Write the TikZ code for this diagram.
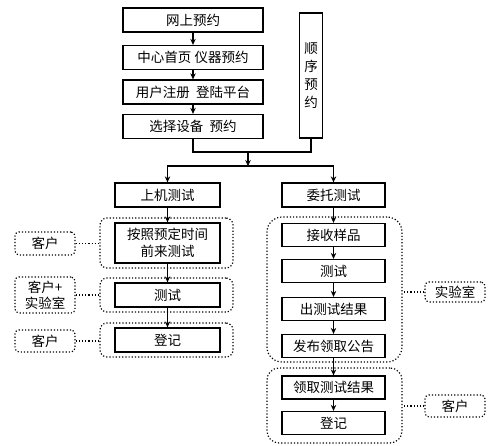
\documentclass[tikz,border=0pt]{standalone}
\usepackage{fontspec}
\newfontfamily\cjk{Noto Sans CJK SC}
\usepackage{tikz}
\usetikzlibrary{arrows.meta, positioning, calc}
\tikzset{
  stepbox/.style={rectangle, draw=black, line width=1.3pt, inner sep=0pt,
    minimum height=23pt, align=center, font=\cjk\fontsize{13.5}{17}\selectfont},
  topbox/.style={stepbox, minimum width=140pt},
  leftbox/.style={stepbox, minimum width=105pt},
  rightbox/.style={stepbox, minimum width=103pt},
  group/.style={rectangle, draw=black, dotted, line width=1.2pt, rounded corners=7pt},
  role/.style={rectangle, draw=black, dotted, line width=1.2pt, rounded corners=4pt,
    minimum width=60pt, align=center, inner sep=0pt,
    font=\cjk\fontsize{13.5}{17}\selectfont},
  arrow/.style={-{Stealth[length=6pt,width=5.5pt]}, line width=1.1pt},
  line/.style={line width=1.1pt},
  link/.style={dotted, line width=1.2pt}
}
\begin{document}
\begin{tikzpicture}[x=1pt, y=-1pt]
  \useasboundingbox (0,0) rectangle (500,445);

  % online booking
  \node[topbox, minimum height=24pt] (web) at (193,20) {网上预约};
  \node[topbox, minimum height=24pt] (home) at (193,57.5) {中心首页 仪器预约};
  \node[topbox, minimum height=24pt] (reg) at (193,92) {用户注册\ \ 登陆平台};
  \node[topbox, minimum height=24pt] (sel) at (193,126.5) {选择设备\ \ 预约};
  \node[stepbox, minimum width=23pt, minimum height=125pt,
    font=\cjk\fontsize{13.5}{18}\selectfont] (seq) at (311,75.5) {顺\\序\\预\\约};

  \draw[arrow] (web) -- (home);
  \draw[arrow] (home) -- (reg);
  \draw[arrow] (reg) -- (sel);

  \coordinate (j1) at (248,152);
  \coordinate (j2) at (248,166);
  \draw[line] (sel.south) |- (j1) -| (seq.south);
  \draw[arrow] (j1) -- (j2);

  % two branches
  \node[leftbox, minimum height=24pt] (onsite) at (167.5,195) {上机测试};
  \node[rightbox, minimum height=24pt] (entrust) at (333.5,195) {委托测试};
  \draw[arrow] (j2) -| (onsite.north);
  \draw[arrow] (j2) -| (entrust.north);

  % left branch
  \node[leftbox, minimum height=40pt] (come) at (167.5,243) {按照预定时间\\前来测试};
  \node[leftbox, minimum height=24pt] (ltest) at (167.5,295) {测试};
  \node[leftbox, minimum height=24pt] (lreg) at (167.5,340) {登记};
  \draw[arrow] (onsite) -- (come);
  \draw[arrow] (come) -- (ltest);
  \draw[arrow] (ltest) -- (lreg);

  \node[group, minimum width=133pt, minimum height=50pt] (g1) at (166.5,243) {};
  \node[group, minimum width=133pt, minimum height=34pt] (g2) at (166.5,295) {};
  \node[group, minimum width=133pt, minimum height=34pt] (g3) at (166.5,340) {};

  \node[role, minimum height=23pt] (r1) at (45,243.5) {客户};
  \node[role, minimum height=36pt, font=\cjk\fontsize{13.5}{16}\selectfont] (r2) at (45,295) {客户+\\实验室};
  \node[role, minimum height=22pt] (r3) at (45,341) {客户};
  \draw[link] (r1) -- (r1 -| g1.west);
  \draw[link] (r2) -- (r2 -| g2.west);
  \draw[link] (r3) -- (r3 -| g3.west);

  % right branch
  \node[rightbox] (recv) at (333.5,235) {接收样品};
  \node[rightbox] (rtest) at (333.5,271) {测试};
  \node[rightbox] (result) at (333.5,309) {出测试结果};
  \node[rightbox] (notice) at (333.5,346) {发布领取公告};
  \node[rightbox] (fetch) at (333.5,387.5) {领取测试结果};
  \node[rightbox] (rreg) at (333.5,423) {登记};
  \draw[arrow] (entrust) -- (recv);
  \draw[arrow] (recv) -- (rtest);
  \draw[arrow] (rtest) -- (result);
  \draw[arrow] (result) -- (notice);
  \draw[arrow] (notice) -- (fetch);
  \draw[arrow] (fetch) -- (rreg);

  \node[group, rounded corners=15pt, minimum width=135pt, minimum height=145pt] (ga) at (334.5,289.5) {};
  \node[group, rounded corners=12pt, minimum width=135pt, minimum height=75pt] (gb) at (334.5,405.5) {};

  \node[role, minimum height=20pt] (lab) at (455,292) {实验室};
  \node[role, minimum height=22pt] (cust) at (455,406) {客户};
  \draw[link] (lab) -- (lab -| ga.east);
  \draw[link] (cust) -- (cust -| gb.east);
\end{tikzpicture}
\end{document}
